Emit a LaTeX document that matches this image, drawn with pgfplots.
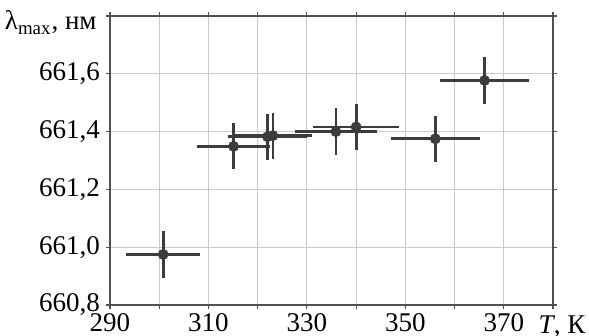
\documentclass[border=0pt]{standalone}
\usepackage{fontspec}
\setmainfont{Liberation Serif}
\usepackage{pgfplots}
\pgfplotsset{compat=1.18}
\definecolor{pt}{HTML}{3C3C3C}
\definecolor{gridc}{HTML}{CACACA}
\definecolor{axc}{HTML}{505050}
\begin{document}
\begin{tikzpicture}
\path[use as bounding box] (-55pt,-15.5pt) rectangle (239.5pt,152.5pt);
\begin{axis}[
  scale only axis, width=221.5pt, height=144.5pt,
  anchor=south west, at={(0,0)},
  xmin=290, xmax=380, ymin=660.8, ymax=661.8,
  xtick={290,300,...,380},
  xticklabels={{\rmfamily 290},,{\rmfamily 310},,{\rmfamily 330},,{\rmfamily 350},,{\rmfamily 370},},
  ytick={660.8,661.0,661.2,661.4,661.6,661.8},
  yticklabels={{\rmfamily 660,8},{\rmfamily 661,0},{\rmfamily 661,2},{\rmfamily 661,4},{\rmfamily 661,6},},
  grid=major,
  major grid style={gridc, line width=0.6pt},
  axis line style={axc, line width=0.8pt},
  tick style={axc, line width=0.6pt},
  tick align=outside, major tick length=2pt,
  tick label style={font=\rmfamily\fontsize{13.5}{15}\selectfont},
  xticklabel style={yshift=1.5pt},
  yticklabel style={xshift=0.5pt},
  /pgf/number format/assume math mode=true,
  clip=false,
]
\addplot+[only marks, mark=*, mark size=2.5pt, color=pt, mark options={fill=pt, draw=pt},
  error bars/.cd, x dir=both, y dir=both, x explicit, y explicit,
  error mark=none, error bar style={line width=1.4pt, color=pt}]
  table[x=x, y=y, x error=ex, y error=ey] {
  x      y        ex    ey
  300.8  660.975  7.5   0.08
  315.1  661.349  7.4   0.08
  322.0  661.382  8.0   0.08
  323.1  661.386  8.0   0.08
  335.9  661.400  8.3   0.08
  340.0  661.416  8.7   0.08
  356.1  661.375  9.0   0.08
  366.1  661.577  9.0   0.08
  };
\node[anchor=north, font=\rmfamily\fontsize{13.5}{15}\selectfont, inner sep=0pt] at ([xshift=4.5pt, yshift=-5pt]rel axis cs:1,0) {\textit{T}, К};
\node[anchor=base east, font=\rmfamily\fontsize{13.5}{15}\selectfont, inner sep=0pt] at ([xshift=-6.5pt, yshift=-7pt]rel axis cs:0,1) {λ\textsubscript{max}, нм};
\end{axis}
\end{tikzpicture}
\end{document}
